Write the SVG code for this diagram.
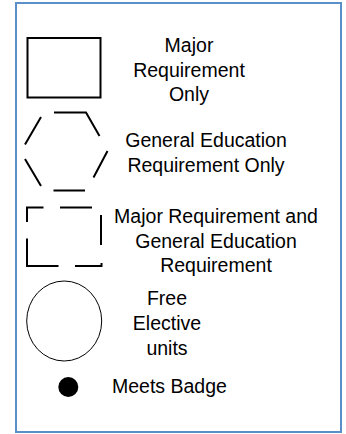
<svg xmlns="http://www.w3.org/2000/svg" width="346" height="434" viewBox="0 0 346 434">
<style>
  .lbl { font-family: "Liberation Sans", Arial, sans-serif; font-size: 19.5px; fill: #000; }
  .mid { text-anchor: middle; }
  .shape { fill: none; stroke: #000; stroke-width: 2; stroke-linecap: butt; stroke-linejoin: miter; }
</style>
<rect width="346" height="434" fill="#fff"/>
<rect id="frame" x="16" y="3" width="325" height="429" fill="none" stroke="#5b8fc7" stroke-width="2"/>

<g id="major-only">
  <rect class="shape" x="27.5" y="38" width="73" height="59.5"/>
  <text class="lbl mid" x="189" y="52">Major</text>
  <text class="lbl mid" x="189" y="77">Requirement</text>
  <text class="lbl mid" x="189" y="101">Only</text>
</g>

<g id="gened-only">
  <path class="shape" d="M54,112.5 L86,112.5 L99.5,136 M41,117 L25,144.5 M25,159 L41,186 M107.5,151 L93.5,177.5 M53.5,190.5 L85,190.5"/>
  <text class="lbl mid" x="206" y="147">General Education</text>
  <text class="lbl mid" x="206" y="172">Requirement Only</text>
</g>

<g id="major-and-gened">
  <path class="shape" d="M27,222 L27,207.5 L43.5,207.5 M60,207.5 L92,207.5 M101,215 L101,245 M27,238.5 L27,266 L58.5,266 M75,266 L101.5,266 L101.5,263"/>
  <text class="lbl mid" x="216" y="223">Major Requirement and</text>
  <text class="lbl mid" x="216" y="248">General Education</text>
  <text class="lbl mid" x="216" y="272">Requirement</text>
</g>

<g id="free-elective">
  <ellipse cx="64.2" cy="321" rx="37.5" ry="40" fill="none" stroke="#000" stroke-width="1"/>
  <text class="lbl mid" x="167" y="305">Free</text>
  <text class="lbl mid" x="167" y="330">Elective</text>
  <text class="lbl mid" x="167" y="355">units</text>
</g>

<g id="meets-badge">
  <circle cx="68.3" cy="387" r="10" fill="#000"/>
  <text class="lbl" x="112" y="393">Meets Badge</text>
</g>

<g id="connectors"></g>
</svg>
